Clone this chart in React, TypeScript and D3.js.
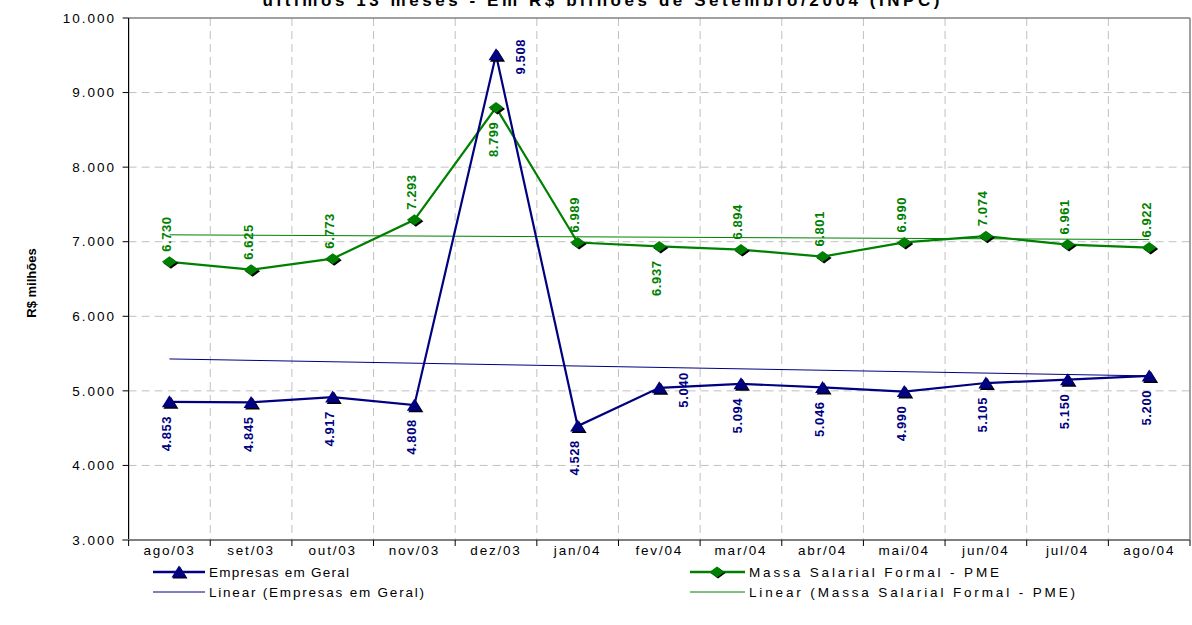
import React from "react";
import * as d3 from "d3";

const months = ["ago/03", "set/03", "out/03", "nov/03", "dez/03", "jan/04", "fev/04", "mar/04", "abr/04", "mai/04", "jun/04", "jul/04", "ago/04"];
const empresas = [4853, 4845, 4917, 4808, 9508, 4528, 5040, 5094, 5046, 4990, 5105, 5150, 5200];
const massa = [6730, 6625, 6773, 7293, 8799, 6989, 6937, 6894, 6801, 6990, 7074, 6961, 6922];
const yTicks = [3000, 4000, 5000, 6000, 7000, 8000, 9000, 10000];
const titleText = "últimos 13 meses - Em R$ bilhões de Setembro/2004 (INPC)";
const yTitle = "R$ milhões";
const seriesNames = ["Empresas em Geral", "Massa Salarial Formal - PME"];

// label placement per point (not data)
const empresasLabelPos = ["below", "below", "below", "below", "right", "below", "right", "below", "below", "below", "below", "below", "below"];
const massaLabelPos = ["above", "above", "above", "above", "below", "above", "below", "above", "above", "above", "above", "above", "above"];

const BLUE = "#000080";
const GREEN = "#008000";
const FONT = "Liberation Sans, Arial, sans-serif";

const loc = d3.formatLocale({ decimal: ",", thousands: ".", grouping: [3], currency: ["R$", ""] });
const fmt = loc.format(",d");

function linreg(vals: number[]) {
  const n = vals.length;
  const xs = vals.map((_, i) => i);
  const mx = d3.mean(xs) as number;
  const my = d3.mean(vals) as number;
  let num = 0, den = 0;
  for (let i = 0; i < n; i++) {
    num += (xs[i] - mx) * (vals[i] - my);
    den += (xs[i] - mx) * (xs[i] - mx);
  }
  const b = num / den;
  const a = my - b * mx;
  return (i: number) => a + b * i;
}

export default function App() {
  const W = 1192, H = 625;
  const left = 128.6, right = 1190, top = 18, bottom = 540;
  const x = d3.scaleBand<string>().domain(months).range([left, right]).paddingInner(0).paddingOuter(0);
  const bw = x.bandwidth();
  const cx = (i: number) => (x(months[i]) as number) + bw / 2;
  const y = d3.scaleLinear().domain([3000, 10000]).range([bottom, top]);

  const line = d3.line<number>().x((_, i) => cx(i)).y((d) => y(d));
  const fE = linreg(empresas);
  const fM = linreg(massa);
  const n = months.length;

  const tri = "M0,-6.5L7.5,5.5L-7.5,5.5Z";
  const dia = "M0,-5.5L7.5,0L0,5.5L-7.5,0Z";

  const boundaries = d3.range(1, n).map((i) => x(months[i]) as number);

  const label = (v: number, i: number, pos: string, color: string) => {
    const px = cx(i), py = y(v);
    let tx = px, ty = py, anchor = "start";
    if (pos === "above") { tx = px + 1.5; ty = py - 10; anchor = "start"; }
    else if (pos === "below") { tx = px + 1.5; ty = py + 14; anchor = "end"; }
    else { tx = px + 29; ty = py + 2; anchor = "middle"; }
    return (
      <text key={"l" + color + i} transform={`translate(${tx},${ty}) rotate(-90)`} textAnchor={anchor}
        fontFamily={FONT} fontWeight="bold" fontSize={13} letterSpacing={0.6} fill={color}>
        {fmt(v)}
      </text>
    );
  };

  const legText = (txt: string, lx: number, ly: number, len: number) => (
    <text x={lx} y={ly} fontFamily={FONT} fontSize={13.5} textLength={len} lengthAdjust="spacing" fill="#000">{txt}</text>
  );

  return (
    <svg width={W} height={H} style={{ position: "absolute", left: 0, top: 0, background: "#fff" }}>
      <rect x={0} y={0} width={W} height={H} fill="#fff" />
      <text x={601} y={6} textAnchor="middle" fontFamily={FONT} fontWeight="bold" fontSize={17}
        textLength={677} lengthAdjust="spacing" fill="#000">{titleText}</text>

      {/* gridlines */}
      {yTicks.filter((t) => t !== 3000 && t !== 10000).map((t) => (
        <line key={"hg" + t} x1={left} x2={right} y1={y(t)} y2={y(t)} stroke="#c0c0c0" strokeDasharray="8,5" />
      ))}
      {boundaries.map((b, i) => (
        <line key={"vg" + i} x1={b} x2={b} y1={top} y2={bottom} stroke="#c0c0c0" strokeDasharray="8,5" />
      ))}
      {/* borders */}
      <line x1={left} x2={right} y1={top} y2={top} stroke="#808080" strokeWidth={1.5} />
      <line x1={right} x2={right} y1={top} y2={bottom} stroke="#808080" strokeWidth={1.5} />

      {/* y axis */}
      <line x1={left} x2={left} y1={top} y2={bottom} stroke="#000" strokeWidth={1.2} />
      {yTicks.map((t) => (
        <g key={"yt" + t}>
          <line x1={left - 6} x2={left} y1={y(t)} y2={y(t)} stroke="#000" />
          <text x={116} y={y(t)} dy="0.35em" textAnchor="end" fontFamily={FONT} fontSize={13.5} letterSpacing={2} fill="#000">{fmt(t)}</text>
        </g>
      ))}
      <text transform={`translate(36,283) rotate(-90)`} textAnchor="middle" fontFamily={FONT} fontWeight="bold" fontSize={13} fill="#000">{yTitle}</text>

      {/* x axis */}
      <line x1={left - 6} x2={right} y1={bottom} y2={bottom} stroke="#808080" strokeWidth={2} />
      {[left, ...boundaries, right].map((b, i) => (
        <line key={"xt" + i} x1={b} x2={b} y1={bottom} y2={bottom + 6} stroke="#000" />
      ))}
      {months.map((m, i) => (
        <text key={"xl" + m} x={cx(i)} y={555} textAnchor="middle" fontFamily={FONT} fontSize={13.5} letterSpacing={1.8} fill="#000">{m}</text>
      ))}

      {/* trend lines */}
      <line x1={cx(0)} x2={cx(n - 1)} y1={y(fE(0))} y2={y(fE(n - 1))} stroke={BLUE} strokeWidth={1} />
      <line x1={cx(0)} x2={cx(n - 1)} y1={y(fM(0))} y2={y(fM(n - 1))} stroke={GREEN} strokeWidth={1} />

      {/* series lines */}
      <path d={line(massa) as string} fill="none" stroke={GREEN} strokeWidth={2.2} />
      <path d={line(empresas) as string} fill="none" stroke={BLUE} strokeWidth={2.2} />

      {/* markers */}
      {massa.map((v, i) => (
        <g key={"dm" + i} transform={`translate(${cx(i)},${y(v)})`}>
          <path d={dia} transform="translate(1.5,1.5)" fill="#000" />
          <path d={dia} fill={GREEN} />
        </g>
      ))}
      {empresas.map((v, i) => (
        <g key={"tm" + i} transform={`translate(${cx(i)},${y(v)})`}>
          <path d={tri} transform="translate(1.5,1.5)" fill="#000" />
          <path d={tri} fill={BLUE} />
        </g>
      ))}

      {/* data labels */}
      {massa.map((v, i) => label(v, i, massaLabelPos[i], GREEN))}
      {empresas.map((v, i) => label(v, i, empresasLabelPos[i], BLUE))}

      {/* legend */}
      <g>
        <line x1={153} x2={205} y1={572} y2={572} stroke={BLUE} strokeWidth={2.5} />
        <g transform="translate(179,572)">
          <path d={tri} transform="translate(1,1)" fill="#000" />
          <path d={tri} fill={BLUE} />
        </g>
        {legText(seriesNames[0], 209, 577, 140)}
        <line x1={153} x2={205} y1={592} y2={592} stroke={BLUE} strokeWidth={1} />
        {legText(`Linear (${seriesNames[0]})`, 209, 597, 215)}

        <line x1={690} x2={745} y1={572} y2={572} stroke={GREEN} strokeWidth={2.5} />
        <g transform="translate(717,572)">
          <path d={dia} transform="translate(1,1)" fill="#000" />
          <path d={dia} fill={GREEN} />
        </g>
        {legText(seriesNames[1], 749, 577, 250)}
        <line x1={690} x2={745} y1={592} y2={592} stroke={GREEN} strokeWidth={1} />
        {legText(`Linear (${seriesNames[1]})`, 749, 597, 326)}
      </g>
    </svg>
  );
}
